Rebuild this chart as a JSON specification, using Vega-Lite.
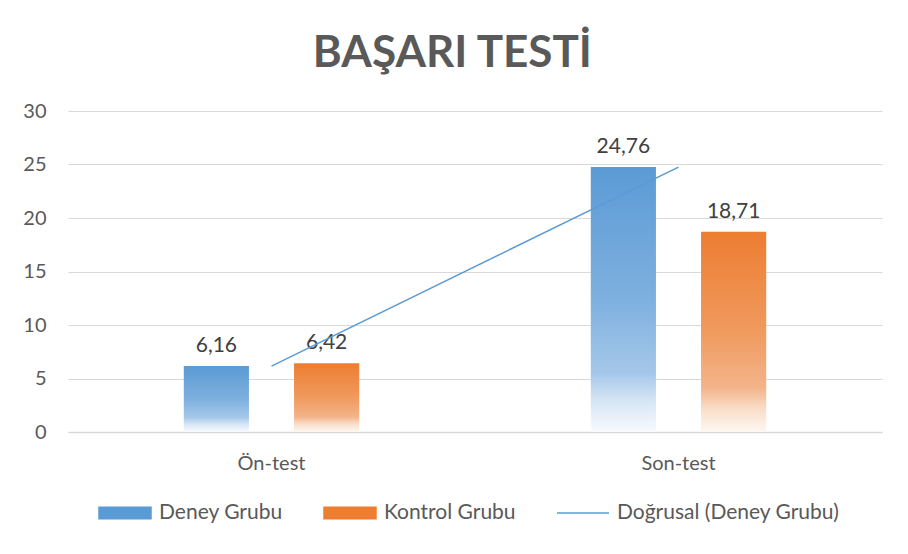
{
  "$schema": "https://vega.github.io/schema/vega-lite/v6.json",
  "autosize": {"type": "fit", "contains": "padding"},
  "width": 908,
  "height": 554,
  "padding": {"left": 22, "right": 26, "top": 32, "bottom": 31},
  "background": "white",
  "config": {
    "locale": {"number": {"decimal": ",", "thousands": ".", "grouping": [3], "currency": ["", " ₺"]}},
    "font": "Lato",
    "view": {"stroke": null},
    "legend": {"layout": {"bottom": {"anchor": "middle"}}}
  },
  "title": {
    "text": "BAŞARI TESTİ",
    "fontSize": 44,
    "fontWeight": "bold",
    "color": "#595959",
    "font": "Lato",
    "anchor": "middle",
    "frame": "bounds",
    "offset": 25
  },
  "data": {
    "values": [
      {"test": "Ön-test", "group": "Deney Grubu", "value": 6.16},
      {"test": "Ön-test", "group": "Kontrol Grubu", "value": 6.42},
      {"test": "Son-test", "group": "Deney Grubu", "value": 24.76},
      {"test": "Son-test", "group": "Kontrol Grubu", "value": 18.71}
    ]
  },
  "encoding": {
    "x": {
      "field": "test",
      "type": "nominal",
      "sort": ["Ön-test", "Son-test"],
      "scale": {"paddingInner": 0.569, "paddingOuter": 0.2845},
      "axis": {
        "title": null,
        "labelAngle": 0,
        "labelFontSize": 20,
        "labelColor": "#595959",
        "labelPadding": 21,
        "ticks": false,
        "domainColor": "#d9d9d9",
        "domainWidth": 1.5
      }
    },
    "y": {
      "field": "value",
      "type": "quantitative",
      "scale": {"domain": [0, 30]},
      "axis": {
        "title": null,
        "values": [0, 5, 10, 15, 20, 25, 30],
        "labelFontSize": 20,
        "labelColor": "#595959",
        "labelPadding": 22,
        "ticks": false,
        "domain": false,
        "gridColor": "#d9d9d9",
        "gridWidth": 1
      }
    }
  },
  "layer": [
    {
      "mark": {"type": "bar", "opacity": 0},
      "encoding": {
        "xOffset": {"field": "group", "scale": {"paddingInner": 0.409, "paddingOuter": 0}},
        "color": {
          "field": "group",
          "type": "nominal",
          "scale": {
            "domain": ["Deney Grubu", "Kontrol Grubu", "Doğrusal (Deney Grubu)"],
            "range": ["#5b9bd5", "#ed7d31", "#5b9bd5"]
          },
          "legend": {
            "orient": "bottom",
            "direction": "horizontal",
            "title": null,
            "labelFontSize": 21,
            "labelColor": "#595959",
            "labelLimit": 400,
            "symbolSize": 676,
            "labelOffset": 20,
            "columnPadding": 38,
            "offset": 26,
            "symbolOpacity": 1,
            "encode": {
              "symbols": {
                "update": {
                  "shape": {"signal": "datum.value === 'Doğrusal (Deney Grubu)' ? 'M-2,0H2' : 'M-2,-0.45H2V0.45H-2Z'"},
                  "fill": {"signal": "datum.value === 'Doğrusal (Deney Grubu)' ? 'transparent' : (datum.value === 'Deney Grubu' ? {gradient: 'linear', x1: 0, y1: 0, x2: 0, y2: 1, stops: [{offset: 0, color: '#5b9bd5'}, {offset: 0.6, color: '#7eb0df'}, {offset: 1, color: '#e3eef9'}]} : {gradient: 'linear', x1: 0, y1: 0, x2: 0, y2: 1, stops: [{offset: 0, color: '#ed7d31'}, {offset: 0.6, color: '#f09a5e'}, {offset: 1, color: '#fbe3d3'}]})"},
                  "stroke": {"signal": "datum.value === 'Doğrusal (Deney Grubu)' ? '#5b9bd5' : 'transparent'"},
                  "strokeWidth": {"value": 1.5},
                  "opacity": {"value": 1}
                }
              }
            }
          }
        }
      }
    },
    {
      "transform": [{"filter": "datum.group === 'Deney Grubu'"}],
      "mark": {
        "type": "bar",
        "color": {
          "gradient": "linear",
          "x1": 0, "y1": 0, "x2": 0, "y2": 1,
          "stops": [
            {"offset": 0, "color": "#5b9bd5"},
            {"offset": 0.5, "color": "#7eb0df"},
            {"offset": 0.78, "color": "#a5c8e9"},
            {"offset": 0.88, "color": "#d5e5f5"},
            {"offset": 1, "color": "#f8fbfe"}
          ]
        }
      },
      "encoding": {
        "xOffset": {"field": "group"}
      }
    },
    {
      "transform": [{"filter": "datum.group === 'Kontrol Grubu'"}],
      "mark": {
        "type": "bar",
        "color": {
          "gradient": "linear",
          "x1": 0, "y1": 0, "x2": 0, "y2": 1,
          "stops": [
            {"offset": 0, "color": "#ed7d31"},
            {"offset": 0.5, "color": "#f09a5e"},
            {"offset": 0.78, "color": "#f3b48a"},
            {"offset": 0.88, "color": "#f9dcc6"},
            {"offset": 1, "color": "#fef8f3"}
          ]
        }
      },
      "encoding": {
        "xOffset": {"field": "group"}
      }
    },
    {
      "mark": {"type": "text", "baseline": "bottom", "dy": -10, "fontSize": 21, "color": "#404040"},
      "encoding": {
        "xOffset": {"field": "group"},
        "text": {"field": "value", "type": "quantitative", "format": ".2f"}
      }
    },
    {
      "transform": [{"filter": "datum.group === 'Deney Grubu'"}],
      "mark": {"type": "line", "strokeWidth": 1.5},
      "encoding": {
        "color": {"datum": "Doğrusal (Deney Grubu)"}
      }
    }
  ]
}
